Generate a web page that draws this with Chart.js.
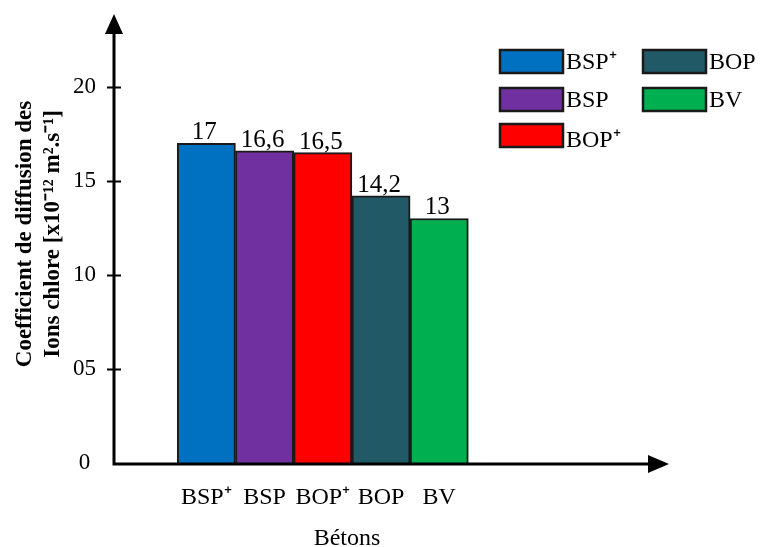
<!DOCTYPE html>
<html>
<head>
<meta charset="utf-8">
<script src="https://cdn.jsdelivr.net/npm/chart.js@4"></script>
<style>
  html, body { margin: 0; padding: 0; background: #fff; }
  #wrap { width: 761px; height: 547px; }
</style>
</head>
<body>
<div id="wrap"><canvas id="chart"></canvas></div>
<script>
const categories = ['BSP⁺', 'BSP', 'BOP⁺', 'BOP', 'BV']
const values = [17, 16.6, 16.5, 14.2, 13]
const valueLabels = ['17', '16,6', '16,5', '14,2', '13']
const barColors = ['#0070C0', '#7030A0', '#FF0000', '#215967', '#00B050']
const yTicks = [0, 5, 10, 15, 20]
const yTitle = ['Coefficient de diffusion des', 'Ions chlore [x10⁻¹² m².s⁻¹]']
const xTitle = 'Bétons'

const serif = "'Liberation Serif', 'Times New Roman', serif"

// one empty slot before the bars and three after, so the x axis runs on past BV
const labels = [''].concat(categories, ['', '', ''])
const data = [null].concat(values, [null, null, null])
const colors = ['#fff'].concat(barColors, ['#fff', '#fff', '#fff'])

const decorations = {
  id: 'decorations',
  afterDatasetsDraw(chart) {
    const ctx = chart.ctx
    const y = chart.scales.y
    const ox = chart.chartArea.left - 5
    const oy = y.getPixelForValue(0) + 1
    ctx.save()

    // values above the bars
    ctx.fillStyle = '#000'
    ctx.font = `25px ${serif}`
    ctx.textAlign = 'center'
    ctx.textBaseline = 'alphabetic'
    chart.getDatasetMeta(0).data.forEach((bar, i) => {
      if (data[i] == null) return
      ctx.fillText(valueLabels[i - 1], bar.x - 2, bar.y - 4)
    })

    // axes with arrow heads
    ctx.strokeStyle = '#000'
    ctx.lineWidth = 3
    ctx.beginPath()
    ctx.moveTo(ox, oy); ctx.lineTo(ox, 30)
    ctx.moveTo(ox - 1.5, oy); ctx.lineTo(652, oy)
    ctx.stroke()
    ctx.beginPath()
    ctx.moveTo(ox, 14); ctx.lineTo(ox - 9, 34); ctx.lineTo(ox + 9, 34); ctx.closePath()
    ctx.moveTo(669, oy); ctx.lineTo(648, oy - 9); ctx.lineTo(648, oy + 9); ctx.closePath()
    ctx.fill()

    // tick marks crossing the y axis
    ctx.lineWidth = 2
    ctx.beginPath()
    yTicks.slice(1).forEach(v => {
      const py = Math.round(y.getPixelForValue(v)) + 0.5
      ctx.moveTo(ox - 7, py); ctx.lineTo(ox + 7, py)
    })
    ctx.stroke()

    // legend, two columns
    ctx.textAlign = 'left'
    ctx.textBaseline = 'middle'
    ctx.font = `24px ${serif}`
    categories.forEach((name, i) => {
      const col = i < 3 ? 0 : 1
      const row = i < 3 ? i : i - 3
      const bx = col === 0 ? 500 : 643
      const by = [50, 88, 124][row]
      ctx.fillStyle = barColors[i]
      ctx.fillRect(bx, by, 63, 23)
      ctx.strokeStyle = '#1a1a1a'
      ctx.lineWidth = 2.5
      ctx.strokeRect(bx, by, 63, 23)
      ctx.fillStyle = '#000'
      ctx.fillText(name, bx + 66, by + 13 + (row === 2 ? 4 : 0))
    })

    // axis titles
    ctx.textAlign = 'center'
    ctx.textBaseline = 'alphabetic'
    ctx.fillText(xTitle, 347, 545)

    ctx.font = `bold 23px ${serif}`
    ctx.textBaseline = 'middle'
    ctx.translate(0, 234)
    ctx.rotate(-Math.PI / 2)
    ctx.fillText(yTitle[0], 0, 25)
    ctx.fillText(yTitle[1], 0, 53)
    ctx.restore()
  }
}

new Chart(document.getElementById('chart'), {
  type: 'bar',
  data: {
    labels: labels,
    datasets: [{
      data: data,
      backgroundColor: colors,
      borderColor: '#1a1a1a',
      borderWidth: 2,
      barPercentage: 1,
      categoryPercentage: 1
    }]
  },
  options: {
    responsive: true,
    maintainAspectRatio: false,
    animation: false,
    layout: { padding: { top: 0, right: 118, bottom: 0, left: 0 } },
    plugins: {
      legend: { display: false },
      tooltip: { enabled: false }
    },
    scales: {
      x: {
        grid: { display: false, drawTicks: false },
        border: { display: false },
        afterFit: s => { s.height = 84 },
        ticks: {
          color: '#000',
          padding: 20,
          maxRotation: 0,
          autoSkip: false,
          font: { family: serif, size: 24 }
        }
      },
      y: {
        min: 0,
        max: 22.66,
        grid: { display: false, drawTicks: false },
        border: { display: false },
        afterFit: s => { s.width = 119 },
        afterBuildTicks: s => { s.ticks = yTicks.map(v => ({ value: v })) },
        ticks: {
          color: '#000',
          padding: 23,
          font: { family: serif, size: 23 },
          callback: v => v === 0 ? '0 ' : String(v).padStart(2, '0')
        }
      }
    }
  },
  plugins: [decorations]
})
</script>
</body>
</html>
